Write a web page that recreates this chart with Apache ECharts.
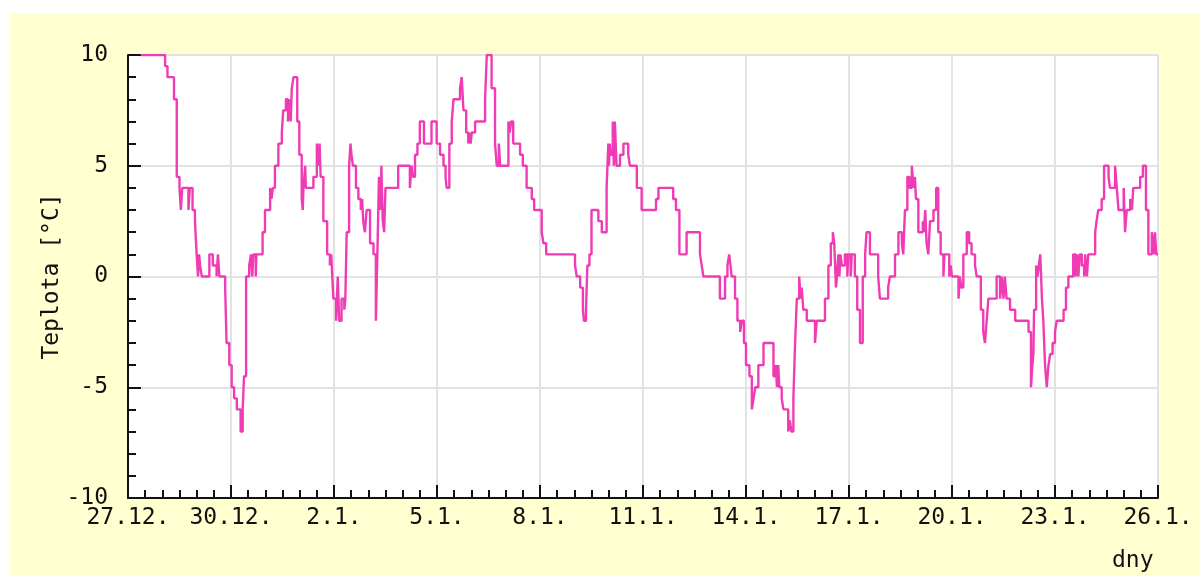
<!DOCTYPE html>
<html>
<head>
<meta charset="utf-8">
<script src="https://cdn.jsdelivr.net/npm/echarts@6/dist/echarts.min.js"></script>
<style>
html,body{margin:0;padding:0;background:#ffffff;width:1200px;height:576px;overflow:hidden;}
#c{position:absolute;left:10px;top:13px;width:1190px;height:563px;}
</style>
</head>
<body>
<div id="c"></div>
<script>
// Day offsets from 27.12. where the reading changes, and the temperature from that point on
const days = [0.37,1.08,1.15,1.34,1.42,1.50,1.54,1.58,1.76,1.80,1.88,1.95,2.00,2.04,2.07,2.10,2.15,2.37,2.47,2.58,2.62,2.66,2.83,2.87,2.95,3.02,3.09,3.17,3.28,3.34,3.38,3.44,3.53,3.58,3.62,3.65,3.72,3.74,
3.92,3.99,4.14,4.18,4.22,4.28,4.38,4.48,4.52,4.60,4.66,4.70,4.74,4.77,4.82,4.93,4.99,5.06,5.09,5.11,5.16,5.18,5.40,5.50,5.55,5.58,5.61,5.69,5.80,5.88,5.92,5.95,5.98,6.06,6.11,6.15,6.22,6.30,6.33,6.37,6.44,6.48,6.51,6.55,6.64,6.71,6.78,6.82,6.85,6.90,6.95,7.05,7.15,7.22,7.27,7.31,7.35,7.38,7.42,7.46,7.50,
7.87,8.21,8.26,8.30,8.36,8.43,8.50,8.62,8.84,8.99,9.09,9.19,9.25,9.28,9.36,9.43,9.48,9.67,9.72,9.77,9.85,9.91,9.95,9.98,10.01,10.11,10.40,10.45,10.59,10.69,10.74,10.80,10.84,11.08,11.12,11.16,11.22,11.42,11.50,11.61,11.76,11.83,12.05,12.10,12.18,
13.02,13.07,13.17,13.25,13.28,13.34,13.38,13.44,13.50,13.70,13.80,13.94,13.99,14.01,14.03,14.06,14.12,14.15,14.18,14.23,14.33,14.43,14.57,14.62,14.82,14.96,15.38,15.45,15.88,15.96,16.06,16.27,16.66,16.71,16.76,
17.24,17.39,17.46,17.51,17.55,17.58,17.68,17.75,17.83,17.88,17.94,18.00,18.10,18.17,18.22,18.27,18.36,18.51,18.80,18.87,18.90,18.94,18.97,19.04,19.09,19.23,19.28,19.32,19.38,19.43,19.48,19.55,19.59,19.62,19.67,19.77,20.01,20.06,20.30,20.40,20.47,20.53,20.57,20.62,20.65,20.69,20.72,20.75,20.79,20.88,20.95,20.98,21.05,21.08,21.17,21.24,21.32,21.40,21.47,21.51,21.61,21.85,21.90,22.14,22.19,22.34,22.44,22.54,22.58,22.63,22.70,22.76,22.83,22.88,22.92,22.95,
23.02,23.15,23.18,23.22,23.26,23.31,23.36,23.46,23.54,23.60,23.67,23.75,23.78,23.92,23.96,24.00,24.19,24.23,24.27,24.33,24.43,24.50,24.57,24.67,24.72,24.84,24.91,24.96,25.01,25.06,25.30,25.40,25.45,25.50,25.54,25.59,25.69,25.84,26.23,26.30,26.34,26.37,26.39,26.45,26.49,26.53,26.57,26.62,26.66,26.71,26.76,26.81,26.86,26.93,27.00,27.05,27.25,27.32,27.39,
27.53,27.60,27.64,27.68,27.72,27.78,27.85,27.88,27.93,27.97,28.17,28.21,28.26,28.36,28.43,28.56,28.60,28.75,28.80,28.85,29.00,29.04,29.09,29.19,29.24,29.28,29.48,29.56,29.65,29.72,29.82,29.87,29.91,29.95,30];
const temps = [10,9.5,9,8,4.5,4,3,4,3,4,3,2.5,1,0,1,0.5,0,1,0.5,0,1,0,-0.5,-3,-4,-5,-5.5,-6,-7,-6,-4.5,0,0.5,1,0,1,0,1,
2,3,4,3.5,4,5,6,6.5,7.5,8,7,8,7,8.5,9,7,5.5,3.5,3,4,5,4,4.5,6,5,6,4.5,2.5,1,0.5,1,0,-1,-2,0,-2,-1,-1.5,-1,2,5,6,5.5,5,4,3.5,3,3.5,2.5,2,3,1.5,1,-2,1.5,4.5,3,5,2.5,2,4,
5,4,5,4.5,5.5,6,7,6,7,6,5.5,5,4.5,4,6,7,8,8.5,9,7.5,6.5,6,6.5,6,6.5,7,8,10,8.5,6,5,6,5,7,6.5,7,6,5.5,5,4,3.5,3,2,1.5,1,
0.5,0,-0.5,-1.5,-2,-1.5,0.5,1,3,2.5,2,4,6,5,6,5.5,7,5,7,5,5.5,6,5.5,5,4,3,3.5,4,3.5,3,1,2,1,0.5,0,
-1,0,0.5,1,0.5,0,-1,-2,-2.5,-2,-3,-4,-4.5,-6,-5.5,-5,-4,-3,-4.5,-4,-5,-4,-5,-5.5,-6,-7,-6.5,-7,-5.5,-3,-1,0,-1,-0.5,-1.5,-2,-3,-2,-1,0.5,1.5,2,1.5,-0.5,0,1,0,1,0.5,1,0,1,0,1,0,-1.5,-3,0,1,2,1,0,-1,-0.5,0,1,2,1.5,1,3,4.5,4,5,4,4.5,3.5,
2,2.5,2,3,1.5,1,2.5,3,4,2,1,0,1,0,0.5,0,-1,0,-0.5,1,2,1.5,1,0.5,0,-1.5,-2.5,-3,-2,-1,0,-1,0,-1,0,-1,-1.5,-2,-2.5,-5,-4,-3.5,-1.5,0.5,0,0.5,1,-1,-2,-4,-5,-4,-3.5,-3,-2.5,-2,-1.5,-0.5,0,
1,0,1,0,1,0.5,0,1,0,1,2,2.5,3,3.5,5,4.5,4,5,4,3,4,2,3,3.5,3,4,4.5,5,3,1,2,1,2,1,1];
const xTickLabels = ['27.12.','30.12.','2.1.','5.1.','8.1.','11.1.','14.1.','17.1.','20.1.','23.1.','26.1.'];
const yTickValues = [-10,-5,0,5,10];
const yTitle = 'Teplota [°C]';
const xTitle = 'dny';

const points = days.map((d,i)=>[d,temps[i]]);
const FONT = 'DejaVu Sans Mono';
const chart = echarts.init(document.getElementById('c'), null, {renderer:'canvas'});
const axisCol = '#111111';
chart.setOption({
  animation:false,
  backgroundColor:'#ffffd0',
  grid:{left:118, top:42, right:42, bottom:78, show:true, backgroundColor:'#ffffff', borderWidth:0},
  xAxis:{
    type:'value', min:0, max:30, interval:3,
    axisLine:{show:true, onZero:false, lineStyle:{color:axisCol, width:2}},
    axisTick:{show:true, inside:true, length:13, lineStyle:{color:axisCol, width:2}},
    minorTick:{show:true, splitNumber:6, length:8, lineStyle:{color:axisCol, width:2}},
    splitLine:{show:true, lineStyle:{color:'#e2e2e2', width:2}},
    axisLabel:{margin:9, fontFamily:FONT, fontSize:23, color:'#111',
      formatter:(v)=>xTickLabels[Math.round(v/3)]},
  },
  yAxis:{
    type:'value', min:yTickValues[0], max:yTickValues[yTickValues.length-1], interval:5,
    name:yTitle, nameLocation:'middle', nameGap:64, nameRotate:90, nameMoveOverlap:false,
    nameTextStyle:{fontFamily:FONT, fontSize:23, color:'#111'},
    axisLine:{show:true, onZero:false, lineStyle:{color:axisCol, width:2}},
    axisTick:{show:true, inside:true, length:13, lineStyle:{color:axisCol, width:2}},
    minorTick:{show:true, splitNumber:5, length:8, lineStyle:{color:axisCol, width:2}},
    splitLine:{show:true, lineStyle:{color:'#e2e2e2', width:2}},
    axisLabel:{margin:20, fontFamily:FONT, fontSize:23, color:'#111'}
  },
  graphic:[{type:'text', left:1102, top:537, style:{text:xTitle, font:'23px "DejaVu Sans Mono"', fill:'#111'}}],
  series:[{type:'line', step:'end', data:points, showSymbol:false, clip:true,
    lineStyle:{color:'#f03cb4', width:2.4}, z:5}]
});
</script>
</body>
</html>
